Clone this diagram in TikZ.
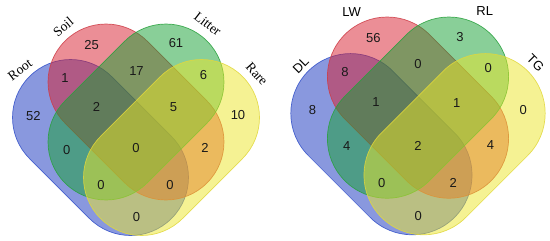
\documentclass[tikz,border=0pt]{standalone}
\usepackage{fontspec}
\setmainfont{Liberation Serif}
\newfontfamily\numfont{Liberation Sans}
\definecolor{vblue}{RGB}{20,50,190}
\definecolor{vblueD}{RGB}{50,80,200}
\definecolor{vred}{RGB}{215,30,45}
\definecolor{vredD}{RGB}{205,60,70}
\definecolor{vgreen}{RGB}{20,160,50}
\definecolor{vgreenD}{RGB}{40,160,60}
\definecolor{vyellow}{RGB}{235,230,40}
\definecolor{vyellowD}{RGB}{225,215,60}
\begin{document}
\begin{tikzpicture}[x=1pt,y=-1pt,
  shp/.style={fill opacity=0.5, draw opacity=0.85, line width=0.7pt},
  sblue/.style={shp, fill=vblue, draw=vblueD},
  sred/.style={shp, fill=vred, draw=vredD},
  sgreen/.style={shp, fill=vgreen, draw=vgreenD},
  syellow/.style={shp, fill=vyellow, draw=vyellowD},
  num/.style={font=\numfont\fontsize{13}{13}\selectfont, text=black!90, inner sep=0pt},
  lab/.style={font=\fontsize{13.5}{13.5}\selectfont, inner sep=0pt},
  slab/.style={font=\numfont\fontsize{13}{13}\selectfont, inner sep=0pt}]
\useasboundingbox (0,0) rectangle (550,241);
% left diagram
\begin{scope}[shift={(136,147.5)}]
  \draw[sblue, shift={(-35.5,0)}, rotate=-45, rounded corners=58pt] (-100.4,-58) rectangle (100.4,58);
  \draw[sred, shift={(0,-35.5)}, rotate=-45, rounded corners=58pt] (-100.4,-58) rectangle (100.4,58);
  \draw[sgreen, shift={(0,-35.5)}, rotate=45, rounded corners=58pt] (-100.4,-58) rectangle (100.4,58);
  \draw[syellow, shift={(35.5,0)}, rotate=45, rounded corners=58pt] (-100.4,-58) rectangle (100.4,58);
\end{scope}
% right diagram
\begin{scope}[shift={(418,144.2)}, scale=1.03]
  \draw[sblue, shift={(-35.5,0)}, rotate=-45, rounded corners=59.74pt] (-100.4,-58) rectangle (100.4,58);
  \draw[sred, shift={(0,-35.5)}, rotate=-45, rounded corners=59.74pt] (-100.4,-58) rectangle (100.4,58);
  \draw[sgreen, shift={(0,-35.5)}, rotate=45, rounded corners=59.74pt] (-100.4,-58) rectangle (100.4,58);
  \draw[syellow, shift={(35.5,0)}, rotate=45, rounded corners=59.74pt] (-100.4,-58) rectangle (100.4,58);
\end{scope}
% left labels
\node[lab, rotate=37] (lRoot) at (20,70) {Root};
\node[lab, rotate=40] (lSoil) at (63.3,26.7) {Soil};
\node[lab, rotate=-38] (lLitter) at (207.7,24) {Litter};
\node[lab, rotate=-48] (lRare) at (256.8,74) {Rare};
% left numbers
\node[num] (a1) at (91.7,45) {25};
\node[num] (a2) at (176,43.3) {61};
\node[num] (a3) at (65,78.3) {1};
\node[num] (a4) at (136.5,70.7) {17};
\node[num] (a5) at (203.5,75) {6};
\node[num] (a6) at (33.3,116) {52};
\node[num] (a7) at (96.5,106.5) {2};
\node[num] (a8) at (173.5,107.5) {5};
\node[num] (a9) at (238,115) {10};
\node[num] (a10) at (66.7,150) {0};
\node[num] (a11) at (136,148.3) {0};
\node[num] (a12) at (205,148.3) {2};
\node[num] (a13) at (101,185) {0};
\node[num] (a14) at (170,185) {0};
\node[num] (a15) at (136.5,217) {0};
% right labels
\node[slab, rotate=45] (lDL) at (300.8,65) {DL};
\node[slab] (lLW) at (351.7,11.7) {LW};
\node[slab] (lRL) at (484.7,11) {RL};
\node[slab, rotate=-45] (lTG) at (535.5,63) {TG};
% right numbers
\node[num] (b1) at (373.3,38.3) {56};
\node[num] (b2) at (460,36.7) {3};
\node[num] (b3) at (345,71.7) {8};
\node[num] (b4) at (418,64) {0};
\node[num] (b5) at (488.3,68.3) {0};
\node[num] (b6) at (312.5,110.5) {8};
\node[num] (b7) at (376,101.7) {1};
\node[num] (b8) at (456.7,102.7) {1};
\node[num] (b9) at (523.3,110) {0};
\node[num] (b10) at (346.7,146.5) {4};
\node[num] (b11) at (418,146) {2};
\node[num] (b12) at (490.5,145) {4};
\node[num] (b13) at (381.7,183) {0};
\node[num] (b14) at (453.3,183) {2};
\node[num] (b15) at (418.3,216) {0};
\end{tikzpicture}
\end{document}
